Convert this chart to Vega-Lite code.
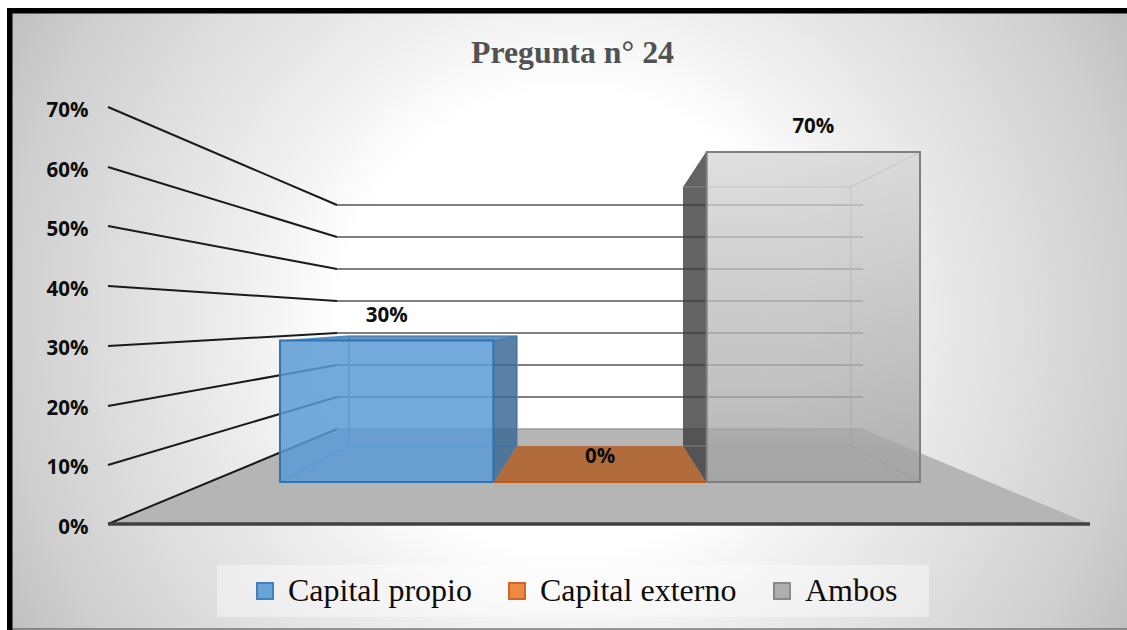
{
"$schema":"https://vega.github.io/schema/vega-lite/v6.json",
"width":1127,"height":630,"padding":0,"autosize":{"type":"none"},
"background":"white",
"config":{"view":{"stroke":null}},
"title":{"text":"Pregunta n° 24","font":"Liberation Serif","fontWeight":"bold","fontSize":31.8,"color":"#525252","anchor":"middle","frame":"group","offset":-70,"dx":9},
"datasets":{
"panel":[{"x":7,"x2":1127,"y":0.8662,"y2":-0.1779}],
"pie":[{"x":12.5,"x2":1127,"y":-0.1755,"y2":-0.1779}],
"fondo":[{"x":12.5,"x2":1127,"y":0.8569,"y2":-0.1755}],
"suelo":[{"x":337,"x2":863,"y":0.1595},{"x":108,"x2":1090,"y":0}],
"rejilla":[
{"pct":0.7,"x":108,"x2":337,"y":0.7,"y2":0.5355},
{"pct":0.6,"x":108,"x2":337,"y":0.5993,"y2":0.4818},
{"pct":0.5,"x":108,"x2":337,"y":0.5002,"y2":0.4281},
{"pct":0.4,"x":108,"x2":337,"y":0.3995,"y2":0.3743},
{"pct":0.3,"x":108,"x2":337,"y":0.2988,"y2":0.3206},
{"pct":0.2,"x":108,"x2":337,"y":0.1981,"y2":0.2669},
{"pct":0.1,"x":108,"x2":337,"y":0.099,"y2":0.2132},
{"pct":0,"x":108,"x2":337,"y":0,"y2":0.1595}],
"fondoRejilla":[
{"pct":0.7,"x":337,"x2":863,"y":0.5355},
{"pct":0.6,"x":337,"x2":863,"y":0.4818},
{"pct":0.5,"x":337,"x2":863,"y":0.4281},
{"pct":0.4,"x":337,"x2":863,"y":0.3743},
{"pct":0.3,"x":337,"x2":863,"y":0.3206},
{"pct":0.2,"x":337,"x2":863,"y":0.2669},
{"pct":0.1,"x":337,"x2":863,"y":0.2132}],
"fondo0":[{"pct":0,"x":337,"x2":863,"y":0.1595}],
"base":[{"x":108,"x2":1090,"y":0}],
"naranja":[{"x":517,"x2":683,"y":0.1309},{"x":494,"x2":706,"y":0.0705}],
"ladoAzul":[{"x":494,"y":0.3072,"y2":0.0705},{"x":517,"y":0.3156,"y2":0.1309}],
"techoAzul":[{"x":349,"x2":517,"y":0.3156},{"x":280,"x2":494,"y":0.3072}],
"aristasAzul":[
{"x":349,"x2":349,"y":0.3156,"y2":0.1309},
{"x":349,"x2":517,"y":0.1309,"y2":0.1309},
{"x":349,"x2":280,"y":0.1309,"y2":0.0705},
{"x":349,"x2":517,"y":0.3156,"y2":0.3156},
{"x":517,"x2":494,"y":0.3156,"y2":0.3072},
{"x":349,"x2":280,"y":0.3156,"y2":0.3072},
{"x":517,"x2":517,"y":0.3156,"y2":0.1309}],
"ladoGris":[{"x":683,"y":0.5657,"y2":0.1309},{"x":706,"y":0.6245,"y2":0.0705}],
"aristasGris":[
{"x":683,"x2":851,"y":0.5657,"y2":0.5657},
{"x":851,"x2":851,"y":0.5657,"y2":0.1309},
{"x":683,"x2":851,"y":0.1309,"y2":0.1309},
{"x":851,"x2":920,"y":0.5657,"y2":0.6245},
{"x":851,"x2":920,"y":0.1309,"y2":0.0705}],
"cajaLeyenda":[{"x":217,"x2":929,"y":-0.0688,"y2":-0.1561}],
"barras":[
{"serie":"Capital propio","valor":0.3},
{"serie":"Capital externo","valor":0},
{"serie":"Ambos","valor":0.7}]
},
"encoding":{
"x":{"field":"x","type":"quantitative","scale":{"domain":[0,1127],"nice":false,"zero":false},"axis":null},
"y":{"field":"y","type":"quantitative","scale":{"domain":[-0.1779,0.8796],"nice":false,"zero":false},"axis":null}
},
"resolve":{"scale":{"x":"independent","y":"independent"}},
"layer":[
{"data":{"name":"panel"},"mark":{"type":"rect","fill":"#000000"},"encoding":{"x2":{"field":"x2"},"y2":{"field":"y2"}}},
{"data":{"name":"pie"},"mark":{"type":"rect","fill":"#8c8c8c"},"encoding":{"x2":{"field":"x2"},"y2":{"field":"y2"}}},
{"data":{"name":"fondo"},"mark":{"type":"rect","fill":{"gradient":"radial","x1":0.5,"y1":0.5,"r1":0,"x2":0.5,"y2":0.5,"r2":0.574,"stops":[{"offset":0,"color":"#ffffff"},{"offset":0.36,"color":"#ffffff"},{"offset":0.5,"color":"#f0f0f0"},{"offset":0.867,"color":"#d0d0d0"},{"offset":1,"color":"#c0c0c0"}]}},"encoding":{"x2":{"field":"x2"},"y2":{"field":"y2"}}},
{"data":{"name":"suelo"},"mark":{"type":"area","orient":"horizontal","fill":"#b5b5b5"},"encoding":{"x2":{"field":"x2"}}},
{"data":{"name":"fondo0"},"mark":{"type":"rule","stroke":"#9a9a9a","strokeWidth":1.4},"encoding":{"x2":{"field":"x2"}}},
{"data":{"name":"rejilla"},"mark":{"type":"rule","stroke":"#1a1a1a","strokeWidth":2},"encoding":{
"y":{"field":"y","type":"quantitative","scale":{"domain":[-0.1779,0.8796],"nice":false,"zero":false},"axis":{"orient":"left","offset":-88,"title":null,"values":[0,0.1,0.2,0.3,0.4,0.5,0.6,0.7],"format":".0%","domain":false,"ticks":false,"grid":false,"labelPadding":0,"labelOffset":3.5,"labelFont":"Open Sans","labelFontWeight":"bold","labelFontSize":20.5,"labelColor":"#0d0d0d","zindex":1}},
"x2":{"field":"x2"},"y2":{"field":"y2"}}},
{"data":{"name":"fondoRejilla"},"mark":{"type":"rule","stroke":"#555555","strokeWidth":1.6},"encoding":{"x2":{"field":"x2"}}},
{"data":{"name":"base"},"mark":{"type":"rule","stroke":"#404040","strokeWidth":3.5},"encoding":{"x2":{"field":"x2"}}},
{"data":{"name":"naranja"},"mark":{"type":"area","orient":"horizontal","fill":"#b26b3b"},"encoding":{"x2":{"field":"x2"}}},
{"data":{"name":"aristasAzul"},"mark":{"type":"rule","stroke":"#5b9bd5","strokeWidth":1.5},"encoding":{"x2":{"field":"x2"},"y2":{"field":"y2"}}},
{"data":{"name":"ladoAzul"},"mark":{"type":"area","fill":"#3d6a96","fillOpacity":0.85},"encoding":{"y2":{"field":"y2"}}},
{"data":{"name":"techoAzul"},"mark":{"type":"area","orient":"horizontal","fill":"#3f78ad","fillOpacity":0.8},"encoding":{"x2":{"field":"x2"}}},
{"data":{"name":"ladoGris"},"mark":{"type":"area","fill":"#3c3c3c","fillOpacity":0.8},"encoding":{"y2":{"field":"y2"}}},
{"data":{"name":"aristasGris"},"mark":{"type":"rule","stroke":"#8a8a8a","strokeOpacity":0.55,"strokeWidth":1.5},"encoding":{"x2":{"field":"x2"},"y2":{"field":"y2"}}},
{"data":{"name":"barras"},"transform":[{"filter":"datum.serie==='Ambos'"}],"mark":{"type":"bar","fillOpacity":0.78,"fill":{"gradient":"linear","x1":0,"y1":0,"x2":0,"y2":1,"stops":[{"offset":0,"color":"#d6d6d6"},{"offset":1,"color":"#a0a0a0"}]}},"encoding":{
"x":{"field":"serie","type":"nominal","scale":{"domain":["Capital propio","Capital externo","Ambos"],"range":[280,920],"paddingInner":0,"paddingOuter":0},"axis":null},
"y":{"field":"valor","type":"quantitative","scale":{"domain":[0,0.7],"range":[482,152],"nice":false},"axis":null},
"y2":{"datum":0}
}},
{"data":{"name":"barras"},"mark":{"type":"bar","strokeWidth":2},"encoding":{
"x":{"field":"serie","type":"nominal","scale":{"domain":["Capital propio","Capital externo","Ambos"],"range":[280,920],"paddingInner":0,"paddingOuter":0},"axis":null},
"y":{"field":"valor","type":"quantitative","scale":{"domain":[0,0.7],"range":[482,152],"nice":false},"axis":null},
"y2":{"datum":0},
"fill":{"field":"serie","type":"nominal","scale":{"domain":["Capital propio","Capital externo","Ambos"],"range":["#5b9bd5","#ed7d31","#a8a8a8"]},
"legend":{"orient":"none","legendX":249,"legendY":575,"direction":"horizontal","columns":3,"title":null,"symbolType":"square","symbolSize":256,"symbolStrokeWidth":2,"symbolOpacity":0.9,"labelFont":"Liberation Serif","labelFontSize":32,"labelLimit":400,"labelColor":"#0d0d0d","labelOffset":7,"columnPadding":29,"padding":0}},
"stroke":{"field":"serie","type":"nominal","scale":{"domain":["Capital propio","Capital externo","Ambos"],"range":["#2e75b6","#c55a11","#7f7f7f"]}},
"fillOpacity":{"condition":[{"test":"datum.serie==='Ambos'","value":0}],"value":0.85}
}},
{"data":{"name":"barras"},"mark":{"type":"text","font":"Open Sans","fontWeight":"bold","fontSize":20.5,"color":"#0d0d0d","dy":-25,"baseline":"middle"},"encoding":{
"x":{"field":"serie","type":"nominal","scale":{"domain":["Capital propio","Capital externo","Ambos"],"range":[280,920],"paddingInner":0,"paddingOuter":0},"axis":null},
"y":{"field":"valor","type":"quantitative","scale":{"domain":[0,0.7],"range":[482,152],"nice":false},"axis":null},
"text":{"field":"valor","type":"quantitative","format":".0%"}
}},
{"data":{"name":"cajaLeyenda"},"mark":{"type":"rect","fill":"#ffffff","fillOpacity":0.4},"encoding":{"x2":{"field":"x2"},"y2":{"field":"y2"}}}
]
}
